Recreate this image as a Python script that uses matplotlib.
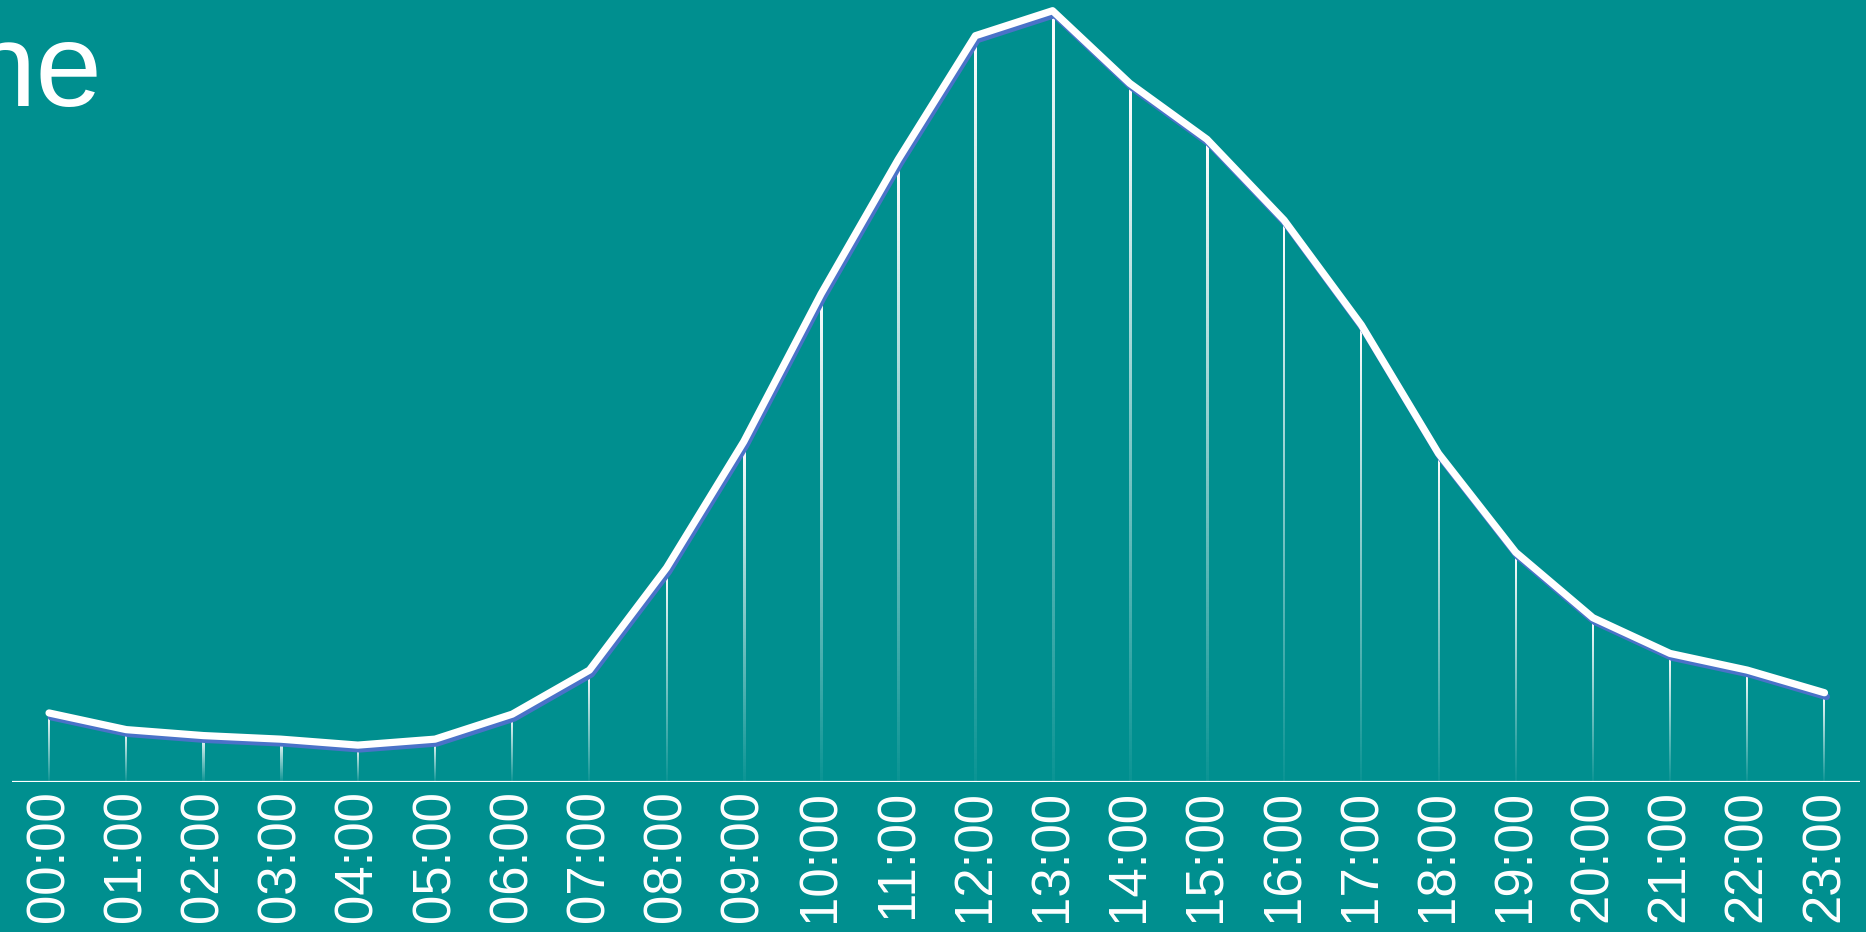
import numpy as np
import matplotlib.pyplot as plt
import matplotlib.transforms as mtransforms

plt.rcParams['font.family'] = ['Liberation Sans', 'DejaVu Sans']

hours = [f"{h:02d}:00" for h in range(24)]
values = [58, 44, 39, 36, 31, 36, 57, 94, 180, 286, 410, 523,
          627, 648, 587, 540, 472, 384, 276, 193, 138, 108, 94, 75]

BG = "#008F8F"
W, H = 1866, 932

fig = plt.figure(figsize=(W / 100, H / 100), dpi=100, facecolor=BG)
ax = fig.add_axes([12 / W, 1 - 782 / H, (1860 - 12) / W, 782 / H])
ax.set_facecolor(BG)

x = np.arange(len(values))
xlim = (-0.48, 23.46)
px = (xlim[1] - xlim[0]) / (1860 - 12)  # data units per pixel

# vertical drops fading towards the baseline
grad = np.ones((100, 1, 4))
grad[:, 0, 3] = np.linspace(1, 0.05, 100)
for xi, v in zip(x, values):
    ax.imshow(grad, extent=[xi - px, xi + px, 0, v], aspect='auto',
              interpolation='bilinear', origin='upper', zorder=1)

# shadow line
shadow = mtransforms.offset_copy(ax.transData, fig=fig, x=2, y=-4, units='dots')
ax.plot(x, values, color="#4A72C8", lw=5, transform=shadow, zorder=2,
        solid_capstyle='round', solid_joinstyle='round')
ax.plot(x, values, color="white", lw=5.2, zorder=3,
        solid_capstyle='round', solid_joinstyle='round')

ax.axhline(0, color="white", lw=1.6)

ax.set_xlim(*xlim)
ax.set_ylim(0, 657)
ax.set_xticks(x)
ax.set_xticklabels(hours, rotation=90, color="white", fontsize=38, va='top')
ax.tick_params(axis='x', length=0, pad=6)
ax.set_yticks([])
for s in ax.spines.values():
    s.set_visible(False)

fig.text(-31 / W, 1 - 106 / H, "ne", color="white", fontsize=86,
         ha='left', va='baseline')

fig.savefig("out.png", dpi=100, facecolor=BG)
